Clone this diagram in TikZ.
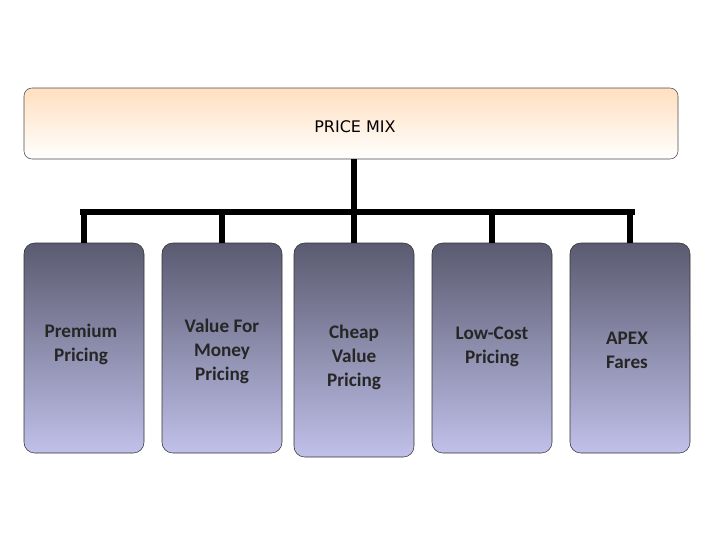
\documentclass[tikz,border=0pt]{standalone}
\usepackage{fontspec}
\setmainfont{Carlito}
\newfontfamily\dvs{DejaVu Sans}
\begin{document}
\begin{tikzpicture}[x=0.75pt,y=-0.75pt,
  top/.style={draw=black!70,rounded corners=6pt,top color=orange!25,bottom color=white,minimum width=654*0.75pt,minimum height=71*0.75pt},
  leaf/.style={draw=black!80,rounded corners=8pt,top color={rgb,255:red,90;green,90;blue,112},bottom color={rgb,255:red,192;green,192;blue,234},minimum width=120*0.75pt,minimum height=210*0.75pt},
  lbl/.style={align=center,font=\Large\bfseries,text=black!85},
  bar/.style={line width=5pt}]
\useasboundingbox (0,0) rectangle (720,540);
\node[top] (pm) at (351,123.5) {};
\node[font=\dvs\large] (pmt) at (355,127) {PRICE MIX};
\node[leaf] (a) at (84,348) {};
\node[leaf] (b) at (222,348) {};
\node[leaf,minimum height=214*0.75pt] (c) at (354,350) {};
\node[leaf] (d) at (492,348) {};
\node[leaf] (e) at (630,348) {};
\node[lbl] (at) at (81,344) {Premium\\Pricing};
\node[lbl] (bt) at (222,351) {Value For\\Money\\Pricing};
\node[lbl] (ct) at (354,357) {Cheap\\Value\\Pricing};
\node[lbl] (dt) at (492,347) {Low-Cost\\Pricing};
\node[lbl] (et) at (627,350) {APEX\\Fares};
\coordinate (j) at (354,212);
\coordinate (l) at (80,212);
\coordinate (r) at (635,212);
\draw[bar] (pm.south -| j) -- (j);
\draw[bar] (l) -- (r);
\foreach \n in {a,b,c,d,e} \draw[bar] (\n.north |- j) -- (\n.north);
\end{tikzpicture}
\end{document}
